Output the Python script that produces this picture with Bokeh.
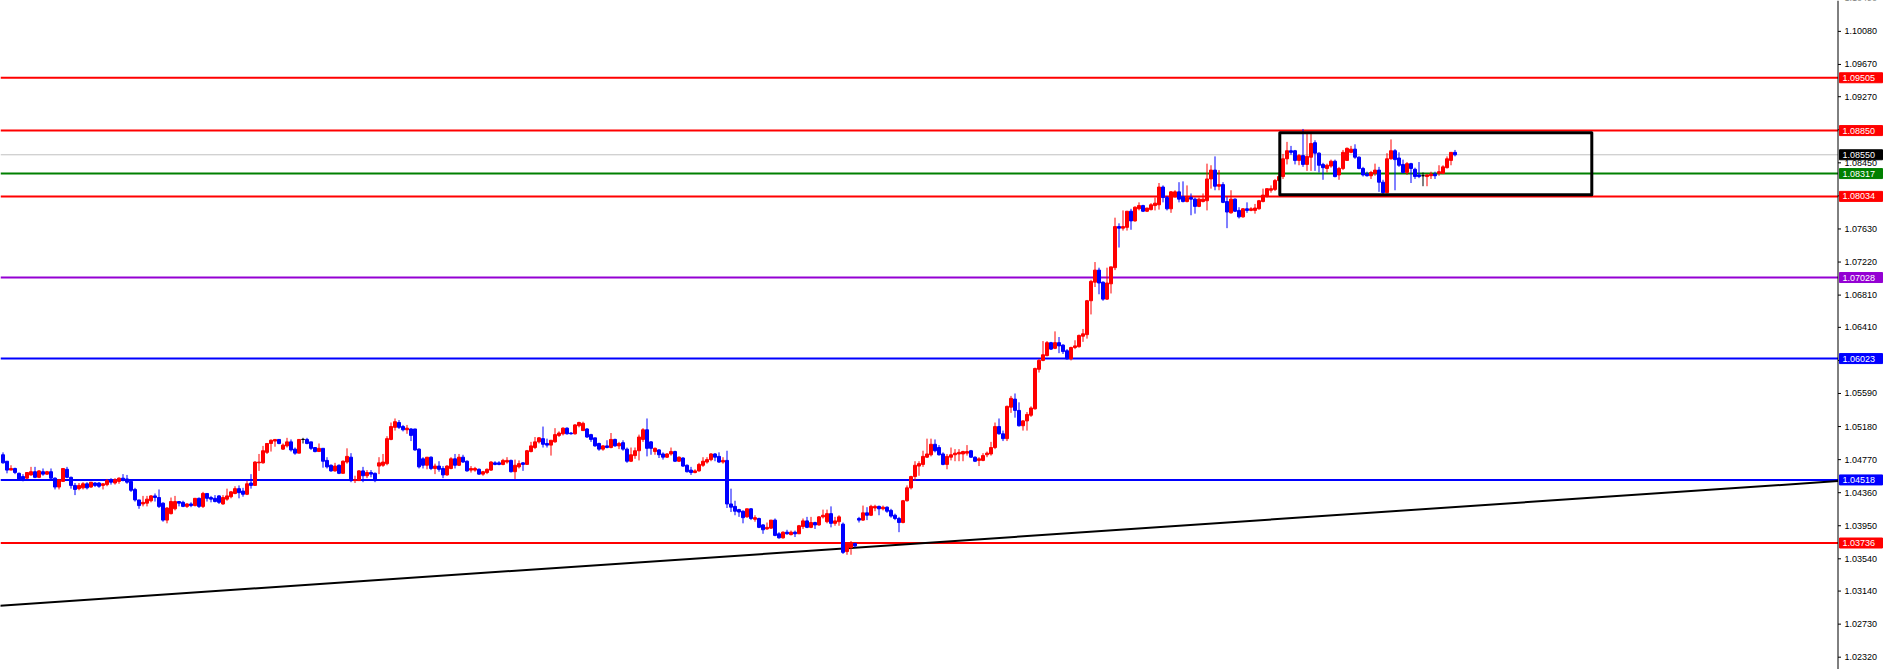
from bokeh.plotting import figure
from bokeh.models import Range1d, ColumnDataSource, Span
from bokeh.core.properties import value
from bokeh.embed import file_html
from bokeh.resources import INLINE

opens = [
1.0483,1.0475,1.0464,1.0466,1.0460,1.0456,1.0454,1.0458,1.0462,1.0455,1.0462,1.0459,1.0462,1.0454,1.0443,1.0450,1.0465,1.0455,1.0445,1.0441,
1.0442,1.0447,1.0443,1.0448,1.0448,1.0445,1.0446,1.0452,1.0448,1.0450,1.0454,1.0453,1.0450,1.0440,1.0427,1.0422,1.0423,1.0426,1.0432,1.0430,
1.0423,1.0402,1.0410,1.0416,1.0425,1.0424,1.0419,1.0422,1.0420,1.0429,1.0419,1.0435,1.0430,1.0429,1.0432,1.0422,1.0428,1.0431,1.0435,1.0441,
1.0438,1.0434,1.0448,1.0445,1.0473,1.0473,1.0486,1.0497,1.0500,1.0502,1.0490,1.0494,1.0499,1.0490,1.0485,1.0502,1.0502,1.0499,1.0492,1.0487,
1.0491,1.0476,1.0470,1.0463,1.0470,1.0460,1.0474,1.0480,1.0451,1.0451,1.0463,1.0457,1.0461,1.0460,1.0469,1.0470,1.0472,1.0502,1.0517,1.0523,
1.0518,1.0514,1.0515,1.0515,1.0490,1.0478,1.0470,1.0480,1.0466,1.0469,1.0466,1.0458,1.0466,1.0478,1.0470,1.0480,1.0475,1.0464,1.0464,1.0465,
1.0459,1.0461,1.0464,1.0473,1.0473,1.0471,1.0474,1.0476,1.0462,1.0468,1.0473,1.0471,1.0487,1.0492,1.0499,1.0503,1.0497,1.0495,1.0499,1.0507,
1.0509,1.0516,1.0510,1.0509,1.0519,1.0513,1.0515,1.0508,1.0504,1.0497,1.0490,1.0494,1.0492,1.0502,1.0494,1.0498,1.0490,1.0475,1.0482,1.0488,
1.0502,1.0514,1.0499,1.0487,1.0489,1.0484,1.0480,1.0484,1.0487,1.0475,1.0479,1.0470,1.0464,1.0461,1.0463,1.0470,1.0474,1.0477,1.0484,1.0481,
1.0474,1.0476,1.0422,1.0419,1.0415,1.0413,1.0406,1.0416,1.0403,1.0404,1.0396,1.0391,1.0392,1.0402,1.0385,1.0380,1.0387,1.0384,1.0387,1.0385,
1.0394,1.0401,1.0393,1.0399,1.0396,1.0406,1.0400,1.0410,1.0398,1.0400,1.0397,1.0363,1.0368,1.0373,1.0404,1.0402,1.0411,1.0408,1.0417,1.0419,
1.0416,1.0418,1.0414,1.0408,1.0404,1.0399,1.0426,1.0442,1.0456,1.0469,1.0471,1.0480,1.0483,1.0496,1.0492,1.0484,1.0471,1.0480,1.0483,1.0484,
1.0484,1.0485,1.0488,1.0480,1.0476,1.0476,1.0483,1.0484,1.0492,1.0518,1.0509,1.0503,1.0542,1.0552,1.0538,1.0519,1.0525,1.0532,1.0540,1.0589,
1.0600,1.0606,1.0622,1.0615,1.0622,1.0619,1.0612,1.0602,1.0616,1.0617,1.0630,1.0632,1.0674,1.0697,1.0712,1.0697,1.0676,1.0695,1.0715,1.0766,
1.0764,1.0765,1.0785,1.0773,1.0788,1.0792,1.0785,1.0787,1.0792,1.0793,1.0815,1.0802,1.0788,1.0803,1.0809,1.0803,1.0797,1.0802,1.0800,1.0791,
1.0797,1.0798,1.0825,1.0836,1.0816,1.0818,1.0797,1.0783,1.0800,1.0786,1.0778,1.0788,1.0786,1.0786,1.0788,1.0797,1.0804,1.0811,1.0812,1.0823,
1.0828,1.0850,1.0860,1.0860,1.0848,1.0854,1.0843,1.0852,1.0870,1.0857,1.0843,1.0838,1.0841,1.0847,1.0830,1.0838,1.0848,1.0858,1.0862,1.0852,
1.0838,1.0831,1.0829,1.0832,1.0836,1.0821,1.0808,1.0850,1.0860,1.0851,1.0843,1.0833,1.0844,1.0837,1.0830,1.0829,1.0828,1.0829,1.0831,1.0832,
1.0832,1.0839,1.0848,1.0858]

highs = [
1.0486,1.0475,1.0470,1.0467,1.0461,1.0459,1.0461,1.0468,1.0468,1.0464,1.0466,1.0463,1.0466,1.0455,1.0453,1.0466,1.0468,1.0456,1.0448,1.0448,
1.0449,1.0449,1.0449,1.0449,1.0449,1.0448,1.0453,1.0454,1.0454,1.0455,1.0459,1.0458,1.0452,1.0442,1.0427,1.0432,1.0432,1.0433,1.0435,1.0440,
1.0424,1.0418,1.0430,1.0432,1.0425,1.0426,1.0423,1.0424,1.0429,1.0430,1.0437,1.0435,1.0432,1.0433,1.0433,1.0433,1.0441,1.0438,1.0444,1.0445,
1.0442,1.0451,1.0459,1.0475,1.0484,1.0494,1.0497,1.0502,1.0502,1.0502,1.0497,1.0504,1.0502,1.0492,1.0502,1.0504,1.0504,1.0499,1.0492,1.0497,
1.0491,1.0480,1.0471,1.0473,1.0471,1.0476,1.0491,1.0485,1.0457,1.0464,1.0468,1.0464,1.0464,1.0461,1.0480,1.0484,1.0506,1.0523,1.0528,1.0526,
1.0520,1.0520,1.0516,1.0515,1.0491,1.0480,1.0480,1.0481,1.0472,1.0475,1.0469,1.0470,1.0480,1.0484,1.0484,1.0483,1.0476,1.0469,1.0468,1.0466,
1.0463,1.0466,1.0475,1.0475,1.0475,1.0478,1.0480,1.0477,1.0477,1.0476,1.0474,1.0489,1.0499,1.0505,1.0505,1.0518,1.0503,1.0501,1.0516,1.0512,
1.0517,1.0517,1.0511,1.0521,1.0524,1.0524,1.0516,1.0509,1.0504,1.0498,1.0495,1.0501,1.0510,1.0503,1.0499,1.0501,1.0492,1.0492,1.0492,1.0508,
1.0516,1.0528,1.0500,1.0492,1.0490,1.0486,1.0485,1.0492,1.0488,1.0481,1.0480,1.0471,1.0468,1.0465,1.0473,1.0480,1.0480,1.0485,1.0485,1.0486,
1.0480,1.0488,1.0441,1.0426,1.0416,1.0414,1.0416,1.0417,1.0408,1.0405,1.0397,1.0399,1.0402,1.0404,1.0387,1.0388,1.0390,1.0389,1.0389,1.0396,
1.0404,1.0406,1.0406,1.0400,1.0407,1.0415,1.0415,1.0419,1.0406,1.0408,1.0399,1.0374,1.0376,1.0374,1.0406,1.0420,1.0418,1.0421,1.0421,1.0420,
1.0420,1.0419,1.0416,1.0410,1.0406,1.0427,1.0445,1.0457,1.0475,1.0475,1.0488,1.0503,1.0503,1.0502,1.0495,1.0486,1.0484,1.0492,1.0490,1.0490,
1.0488,1.0495,1.0489,1.0481,1.0480,1.0485,1.0487,1.0499,1.0523,1.0528,1.0513,1.0544,1.0556,1.0559,1.0548,1.0526,1.0536,1.0543,1.0591,1.0602,
1.0624,1.0624,1.0623,1.0636,1.0629,1.0620,1.0614,1.0617,1.0625,1.0632,1.0639,1.0675,1.0700,1.0722,1.0715,1.0698,1.0715,1.0716,1.0777,1.0770,
1.0786,1.0785,1.0788,1.0791,1.0796,1.0793,1.0789,1.0795,1.0802,1.0820,1.0817,1.0804,1.0810,1.0811,1.0821,1.0822,1.0817,1.0807,1.0802,1.0802,
1.0807,1.0844,1.0842,1.0853,1.0836,1.0821,1.0803,1.0811,1.0801,1.0790,1.0789,1.0796,1.0790,1.0794,1.0799,1.0813,1.0813,1.0817,1.0825,1.0833,
1.0856,1.0871,1.0866,1.0861,1.0856,1.0887,1.0882,1.0881,1.0873,1.0858,1.0845,1.0844,1.0849,1.0849,1.0840,1.0861,1.0864,1.0866,1.0868,1.0853,
1.0840,1.0834,1.0835,1.0844,1.0840,1.0824,1.0857,1.0874,1.0862,1.0858,1.0849,1.0846,1.0845,1.0839,1.0846,1.0833,1.0831,1.0834,1.0834,1.0842,
1.0842,1.0853,1.0858,1.0861]

lows = [
1.0472,1.0460,1.0464,1.0459,1.0452,1.0450,1.0453,1.0457,1.0454,1.0454,1.0457,1.0458,1.0453,1.0440,1.0440,1.0450,1.0454,1.0441,1.0433,1.0439,
1.0440,1.0440,1.0442,1.0443,1.0442,1.0440,1.0444,1.0446,1.0446,1.0447,1.0450,1.0447,1.0437,1.0425,1.0416,1.0419,1.0419,1.0424,1.0425,1.0417,
1.0400,1.0398,1.0409,1.0414,1.0419,1.0418,1.0417,1.0418,1.0419,1.0417,1.0417,1.0425,1.0424,1.0424,1.0422,1.0421,1.0426,1.0429,1.0434,1.0429,
1.0431,1.0433,1.0441,1.0445,1.0463,1.0472,1.0484,1.0487,1.0493,1.0496,1.0489,1.0492,1.0487,1.0483,1.0485,1.0497,1.0496,1.0489,1.0486,1.0487,
1.0467,1.0466,1.0462,1.0462,1.0459,1.0460,1.0472,1.0449,1.0448,1.0451,1.0449,1.0454,1.0455,1.0449,1.0459,1.0468,1.0470,1.0501,1.0513,1.0515,
1.0512,1.0509,1.0500,1.0488,1.0466,1.0466,1.0465,1.0464,1.0459,1.0462,1.0454,1.0457,1.0465,1.0466,1.0469,1.0473,1.0462,1.0461,1.0462,1.0458,
1.0457,1.0459,1.0463,1.0470,1.0470,1.0470,1.0472,1.0461,1.0453,1.0466,1.0463,1.0471,1.0486,1.0490,1.0497,1.0492,1.0492,1.0482,1.0498,1.0505,
1.0507,1.0508,1.0508,1.0508,1.0517,1.0513,1.0504,1.0499,1.0493,1.0488,1.0488,1.0491,1.0491,1.0493,1.0490,1.0488,1.0473,1.0474,1.0478,1.0476,
1.0499,1.0481,1.0483,1.0483,1.0479,1.0477,1.0479,1.0482,1.0474,1.0474,1.0468,1.0461,1.0458,1.0460,1.0462,1.0468,1.0472,1.0475,1.0475,1.0473,
1.0472,1.0417,1.0412,1.0408,1.0406,1.0398,1.0405,1.0402,1.0400,1.0392,1.0385,1.0390,1.0391,1.0382,1.0379,1.0379,1.0384,1.0383,1.0381,1.0385,
1.0391,1.0392,1.0392,1.0391,1.0395,1.0404,1.0398,1.0393,1.0395,1.0395,1.0360,1.0359,1.0359,1.0368,1.0399,1.0401,1.0402,1.0407,1.0413,1.0408,
1.0414,1.0411,1.0405,1.0402,1.0387,1.0398,1.0425,1.0440,1.0451,1.0457,1.0468,1.0479,1.0481,1.0486,1.0482,1.0470,1.0465,1.0476,1.0475,1.0475,
1.0475,1.0482,1.0479,1.0474,1.0469,1.0475,1.0480,1.0482,1.0490,1.0508,1.0500,1.0500,1.0535,1.0529,1.0518,1.0513,1.0513,1.0530,1.0539,1.0585,
1.0599,1.0605,1.0613,1.0614,1.0609,1.0608,1.0601,1.0600,1.0614,1.0616,1.0623,1.0627,1.0657,1.0691,1.0682,1.0674,1.0675,1.0683,1.0712,1.0740,
1.0761,1.0761,1.0762,1.0772,1.0786,1.0784,1.0784,1.0786,1.0786,1.0787,1.0796,1.0786,1.0783,1.0802,1.0796,1.0796,1.0796,1.0780,1.0782,1.0790,
1.0796,1.0786,1.0813,1.0811,1.0811,1.0795,1.0764,1.0782,1.0784,1.0776,1.0777,1.0783,1.0785,1.0782,1.0787,1.0796,1.0802,1.0808,1.0810,1.0822,
1.0825,1.0843,1.0855,1.0843,1.0842,1.0840,1.0835,1.0835,1.0835,1.0833,1.0824,1.0833,1.0839,1.0827,1.0824,1.0836,1.0848,1.0857,1.0850,1.0837,
1.0828,1.0828,1.0825,1.0829,1.0809,1.0806,1.0807,1.0849,1.0811,1.0840,1.0832,1.0830,1.0820,1.0825,1.0826,1.0816,1.0816,1.0825,1.0825,1.0829,
1.0831,1.0838,1.0842,1.0853]

closes = [
1.0473,1.0464,1.0466,1.0461,1.0453,1.0453,1.0461,1.0462,1.0455,1.0463,1.0459,1.0462,1.0454,1.0443,1.0452,1.0466,1.0455,1.0445,1.0440,1.0445,
1.0447,1.0442,1.0449,1.0445,1.0444,1.0447,1.0451,1.0449,1.0452,1.0454,1.0452,1.0449,1.0439,1.0427,1.0420,1.0424,1.0428,1.0432,1.0430,1.0419,
1.0402,1.0417,1.0425,1.0425,1.0423,1.0419,1.0422,1.0420,1.0429,1.0419,1.0435,1.0429,1.0428,1.0425,1.0424,1.0430,1.0432,1.0437,1.0441,1.0436,
1.0434,1.0447,1.0445,1.0474,1.0474,1.0488,1.0497,1.0501,1.0502,1.0497,1.0495,1.0499,1.0489,1.0485,1.0502,1.0502,1.0497,1.0491,1.0487,1.0491,
1.0475,1.0468,1.0463,1.0469,1.0460,1.0475,1.0481,1.0451,1.0452,1.0463,1.0457,1.0461,1.0459,1.0451,1.0473,1.0474,1.0503,1.0518,1.0524,1.0517,
1.0514,1.0516,1.0507,1.0489,1.0468,1.0470,1.0480,1.0466,1.0469,1.0465,1.0458,1.0469,1.0478,1.0470,1.0480,1.0474,1.0463,1.0466,1.0466,1.0459,
1.0462,1.0465,1.0474,1.0471,1.0471,1.0476,1.0476,1.0462,1.0470,1.0472,1.0471,1.0488,1.0494,1.0499,1.0504,1.0496,1.0495,1.0501,1.0508,1.0510,
1.0516,1.0509,1.0509,1.0520,1.0523,1.0522,1.0505,1.0502,1.0494,1.0490,1.0494,1.0492,1.0502,1.0494,1.0497,1.0490,1.0475,1.0483,1.0488,1.0505,
1.0514,1.0491,1.0491,1.0491,1.0483,1.0480,1.0484,1.0487,1.0475,1.0480,1.0469,1.0462,1.0461,1.0463,1.0471,1.0475,1.0477,1.0484,1.0480,1.0474,
1.0476,1.0422,1.0418,1.0413,1.0412,1.0405,1.0416,1.0404,1.0405,1.0393,1.0390,1.0393,1.0402,1.0383,1.0380,1.0387,1.0385,1.0387,1.0385,1.0395,
1.0401,1.0393,1.0399,1.0396,1.0406,1.0408,1.0410,1.0398,1.0401,1.0406,1.0362,1.0373,1.0374,1.0370,1.0402,1.0411,1.0408,1.0419,1.0419,1.0416,
1.0418,1.0413,1.0407,1.0404,1.0399,1.0426,1.0442,1.0456,1.0470,1.0472,1.0481,1.0484,1.0496,1.0488,1.0483,1.0471,1.0481,1.0483,1.0485,1.0486,
1.0487,1.0487,1.0480,1.0475,1.0478,1.0482,1.0485,1.0492,1.0518,1.0509,1.0503,1.0543,1.0553,1.0538,1.0519,1.0525,1.0533,1.0541,1.0590,1.0600,
1.0607,1.0622,1.0614,1.0622,1.0618,1.0611,1.0602,1.0616,1.0618,1.0631,1.0633,1.0674,1.0698,1.0712,1.0696,1.0676,1.0696,1.0716,1.0766,1.0764,
1.0766,1.0785,1.0773,1.0790,1.0792,1.0785,1.0789,1.0793,1.0795,1.0815,1.0802,1.0788,1.0809,1.0809,1.0800,1.0797,1.0802,1.0800,1.0791,1.0800,
1.0800,1.0825,1.0836,1.0816,1.0818,1.0796,1.0784,1.0800,1.0785,1.0778,1.0788,1.0786,1.0788,1.0789,1.0798,1.0805,1.0813,1.0813,1.0823,1.0828,
1.0850,1.0860,1.0858,1.0848,1.0854,1.0843,1.0853,1.0869,1.0857,1.0842,1.0839,1.0842,1.0847,1.0828,1.0838,1.0858,1.0863,1.0862,1.0852,1.0838,
1.0830,1.0829,1.0833,1.0836,1.0821,1.0808,1.0850,1.0860,1.0849,1.0842,1.0833,1.0844,1.0838,1.0828,1.0828,1.0829,1.0830,1.0831,1.0829,1.0834,
1.0840,1.0850,1.0858,1.0855]

# horizontal levels
level_prices = [1.09505, 1.08850, 1.08317, 1.08034, 1.07028, 1.06023, 1.04518, 1.03736]
level_colors = ["#FF0000", "#FF0000", "#008000", "#FF0000", "#9400D3", "#0000FF", "#0000FF", "#FF0000"]
current_price = 1.08550

# trend line (bar index, price)
trend_x = [-1, 458.75]
trend_y = [1.02958, 1.04504]

# consolidation box (bar index range, price range)
box_x = [319.2, 397.2]
box_y = [1.08054, 1.08823]

# price-scale tick labels
tick_values = [1.02320, 1.02730, 1.03140, 1.03540, 1.03950, 1.04360, 1.04770, 1.05180,
               1.05590, 1.06000, 1.06410, 1.06810, 1.07220, 1.07630, 1.08040, 1.08450,
               1.08860, 1.09270, 1.09670, 1.10080, 1.10490]
tick_labels = [f"{t:.5f}" for t in tick_values]

# ---------------------------------------------------------------------------
W, H = 1884, 669
PX = 4.0                      # pixels per bar
X0 = -0.625                   # first visible bar position
Y_LO, Y_HI = 1.021674, 1.104630
PPX = (Y_HI - Y_LO) / H       # price per pixel
AXIS_X = 458.75               # price-scale line (bar units)
FONT = value("Liberation Sans")
FSIZE = value("9px")

n = len(closes)
idx = list(range(n))
colors = []
for o, c in zip(opens, closes):
    if c > o:
        colors.append("#FF0000")
    elif c < o:
        colors.append("#0000FF")
    else:
        colors.append("#000000")

src = ColumnDataSource(dict(
    x=idx, o=opens, h=highs, l=lows, c=closes,
    top=[max(a, b) for a, b in zip(opens, closes)],
    bot=[min(a, b) for a, b in zip(opens, closes)],
    col=colors))

p = figure(frame_width=W, frame_height=H,
           x_range=Range1d(X0, X0 + W / PX), y_range=Range1d(Y_LO, Y_HI),
           x_axis_type=None, y_axis_type=None,
           toolbar_location=None, output_backend="svg",
           min_border_left=0, min_border_top=0, min_border_bottom=0, min_border_right=0,
           outline_line_color=None, background_fill_color="white", border_fill_color="white")
p.grid.visible = False

# level lines (stop at the price scale)
p.segment(x0=[X0] * len(level_prices), x1=[AXIS_X] * len(level_prices),
          y0=level_prices, y1=level_prices, line_color=level_colors, line_width=2)
p.segment(x0=[X0], x1=[AXIS_X], y0=[current_price], y1=[current_price],
          line_color="#C0C0C0", line_width=1)

# trend line
p.line(trend_x, trend_y, line_color="#000000", line_width=2)

# candles
p.segment(x0="x", y0="l", x1="x", y1="h", line_color="col", line_width=1, source=src)
p.vbar(x="x", width=0.75, top="top", bottom="bot", fill_color="col", line_color="col",
       line_width=1, source=src)

# box
p.quad(left=[box_x[0]], right=[box_x[1]], bottom=[box_y[0]], top=[box_y[1]],
       fill_color=None, line_color="#000000", line_width=3, line_join="round")

# price scale: axis line, ticks, labels
p.add_layout(Span(location=AXIS_X, dimension="height", line_color="#000000", line_width=1))
p.segment(x0=[AXIS_X] * len(tick_values), x1=[AXIS_X + 3 / PX] * len(tick_values),
          y0=tick_values, y1=tick_values, line_color="#000000", line_width=1)
p.text(x=[AXIS_X + 6.5 / PX] * len(tick_values), y=tick_values, text=tick_labels,
       text_font=FONT, text_font_size=FSIZE, text_color="#000000",
       text_align="left", text_baseline="middle")

# price tags
tag_prices = level_prices + [current_price]
tag_colors = level_colors + ["#000000"]
tag_texts = [f"{v:.5f}" for v in tag_prices]
half_h = 5.0 * PPX
p.quad(left=[AXIS_X + 1.5 / PX] * len(tag_prices), right=[AXIS_X + 44.5 / PX] * len(tag_prices),
       bottom=[v - half_h for v in tag_prices], top=[v + half_h for v in tag_prices],
       fill_color=tag_colors, line_color=tag_colors, line_width=1)
p.text(x=[AXIS_X + 4.5 / PX] * len(tag_prices), y=tag_prices, text=tag_texts,
       text_font=FONT, text_font_size=FSIZE, text_color="#FFFFFF",
       text_align="left", text_baseline="middle")

open("out.html", "w").write(file_html(p, INLINE))
